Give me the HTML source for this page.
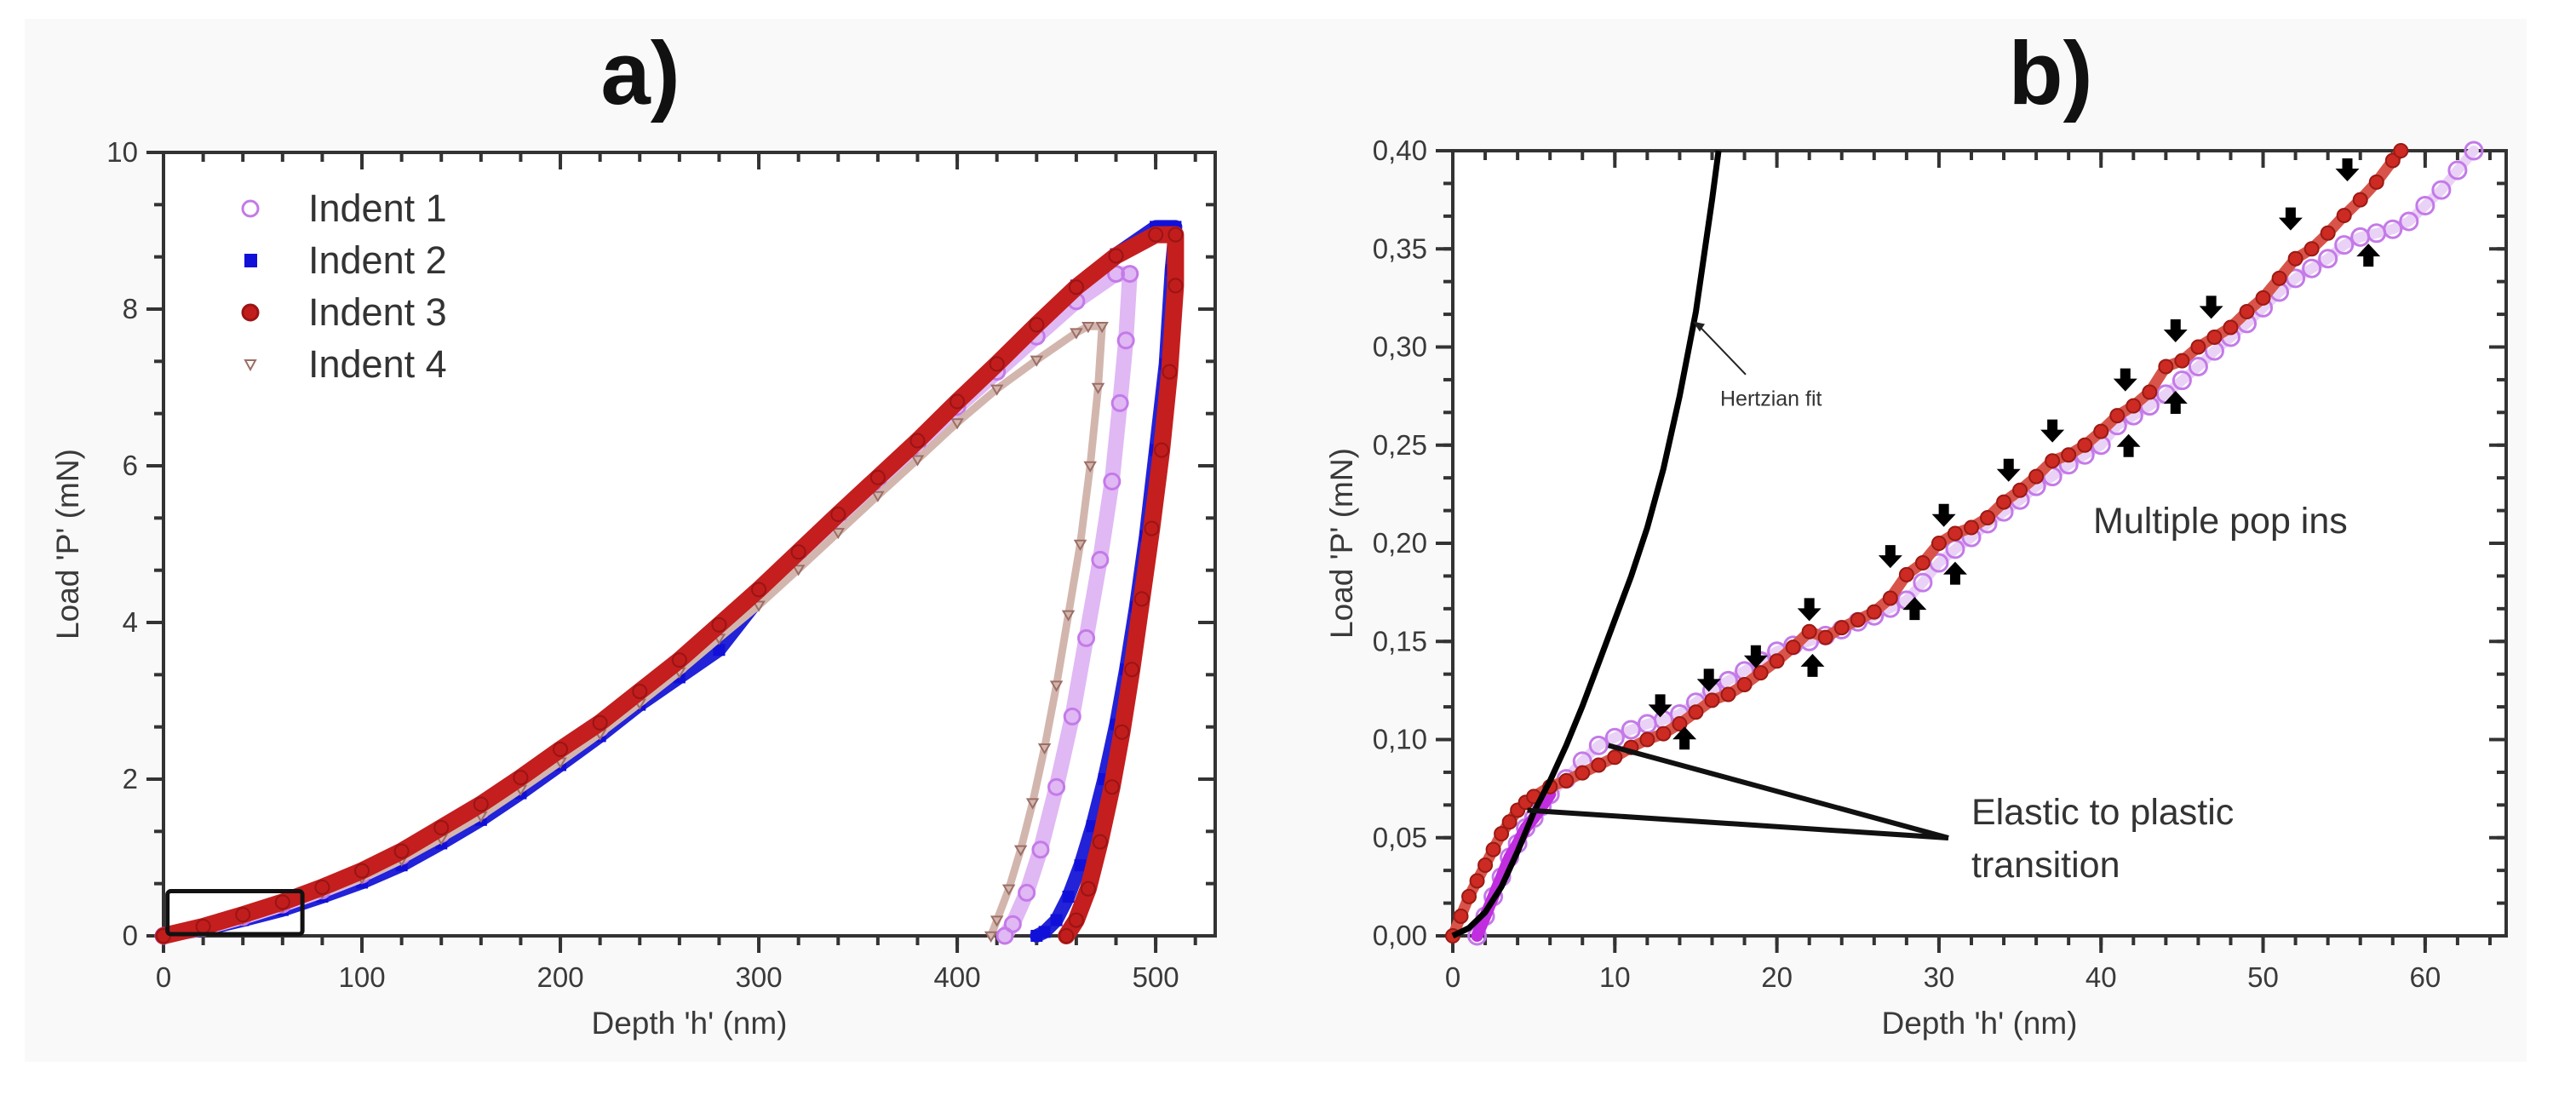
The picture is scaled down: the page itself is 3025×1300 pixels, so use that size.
<!DOCTYPE html>
<html><head><meta charset="utf-8">
<style>
html,body{margin:0;padding:0;background:#fff;}
svg{display:block;font-family:"Liberation Sans",Arial,sans-serif;}
</style></head>
<body>
<svg id="fig" width="3025" height="1300" viewBox="0 0 3025 1300" xmlns="http://www.w3.org/2000/svg">
<rect x="0" y="0" width="3025" height="1300" fill="#ffffff"/>
<rect x="29" y="22" width="2938" height="1225" fill="#f9f9f9"/>
<text x="752" y="122" font-size="105" font-weight="bold" text-anchor="middle" fill="#111">a)</text>
<text x="2408" y="122" font-size="105" font-weight="bold" text-anchor="middle" fill="#111">b)</text>
<g id="pa"></g>
<g id="pb"></g>
</svg>
<script>
// ---------- Panel a data ----------
const aXTicks = [0,100,200,300,400,500];
const aYTicks = [0,2,4,6,8,10];
const aYTickLabels = ["0","2","4","6","8","10"];
const ind1H = [0,20,40,60,80,100,120,140,160,180,200,220,240,260,280,300,320,340,360,380,400,420,440,460,480,487,485,482,478,472,465,458,450,442,435,428,424];
const ind1P = [0,0.1,0.24,0.4,0.58,0.78,1.02,1.3,1.6,1.95,2.3,2.65,3.05,3.45,3.9,4.35,4.8,5.3,5.8,6.25,6.75,7.2,7.65,8.1,8.45,8.45,7.6,6.8,5.8,4.8,3.8,2.8,1.9,1.1,0.55,0.15,0];
const ind2H = [0,20,40,60,80,100,120,140,160,180,200,220,240,260,280,300,320,340,360,380,400,420,440,460,480,500,505,510,508,505,500,495,490,485,480,474,468,462,456,450,444,440];
const ind2P = [0,0.08,0.2,0.33,0.5,0.68,0.9,1.18,1.48,1.82,2.18,2.55,2.95,3.3,3.65,4.3,4.8,5.3,5.8,6.3,6.8,7.3,7.8,8.3,8.7,9.05,9.05,9.05,8.5,7.3,6.2,5.1,4.2,3.4,2.7,2.0,1.4,0.9,0.5,0.2,0.05,0];
const ind3H = [0,20,40,60,80,100,120,140,160,180,200,220,240,260,280,300,320,340,360,380,400,420,440,460,480,500,510,510,507,503,498,493,488,483,478,472,466,460,455];
const ind3P = [0,0.12,0.27,0.43,0.62,0.83,1.08,1.38,1.68,2.02,2.38,2.72,3.12,3.52,3.97,4.42,4.9,5.38,5.85,6.32,6.82,7.3,7.8,8.28,8.68,8.95,8.95,8.3,7.2,6.2,5.2,4.3,3.4,2.6,1.9,1.2,0.6,0.2,0];
const ind4H = [0,20,40,60,80,100,120,140,160,180,200,220,240,260,280,300,320,340,360,380,400,420,440,460,466,473,471,467,462,456,450,444,438,432,426,420,417];
const ind4P = [0,0.09,0.22,0.37,0.55,0.74,0.97,1.24,1.53,1.87,2.22,2.58,2.97,3.37,3.8,4.22,4.68,5.15,5.62,6.08,6.55,6.98,7.35,7.7,7.78,7.78,7.0,6.0,5.0,4.1,3.2,2.4,1.7,1.1,0.6,0.2,0];
const seriesNames = ["Indent 1","Indent 2","Indent 3","Indent 4"];

// ---------- Panel b data ----------
const bXTicks = [0,10,20,30,40,50,60];
const bYTicks = [0,0.05,0.10,0.15,0.20,0.25,0.30,0.35,0.40];
const bYTickLabels = ["0,00","0,05","0,10","0,15","0,20","0,25","0,30","0,35","0,40"];
const redH = [0,0.5,1,1.5,2,2.5,3,3.5,4,4.5,5,6,7,8,9,10,11,12,13,14,15,16,17,18,19,20,21,22,23,24,25,26,27,28,29,30,31,32,33,34,35,36,37,38,39,40,41,42,43,44,45,46,47,48,49,50,51,52,53,54,55,56,57,58,58.5];
const redP = [0,0.01,0.02,0.028,0.036,0.044,0.052,0.058,0.064,0.068,0.071,0.076,0.079,0.083,0.087,0.091,0.096,0.1,0.103,0.108,0.114,0.12,0.123,0.128,0.134,0.14,0.147,0.155,0.152,0.157,0.161,0.165,0.172,0.184,0.19,0.2,0.205,0.208,0.213,0.221,0.227,0.234,0.242,0.245,0.25,0.257,0.265,0.27,0.277,0.29,0.293,0.3,0.305,0.31,0.318,0.325,0.335,0.345,0.35,0.358,0.367,0.375,0.384,0.395,0.4];
const purH = [1.5,2,2.5,3,3.5,4,4.5,5,5.5,6,7,8,9,10,11,12,13,14,15,16,17,18,19,20,21,22,23,24,25,26,27,28,29,30,31,32,33,34,35,36,37,38,39,40,41,42,43,44,45,46,47,48,49,50,51,52,53,54,55,56,57,58,59,60,61,62,63];
const purP = [0,0.01,0.02,0.03,0.04,0.047,0.055,0.06,0.066,0.072,0.08,0.089,0.097,0.101,0.105,0.108,0.11,0.113,0.119,0.125,0.13,0.135,0.14,0.145,0.148,0.15,0.153,0.156,0.16,0.163,0.167,0.171,0.18,0.19,0.197,0.203,0.21,0.216,0.222,0.229,0.234,0.24,0.245,0.25,0.26,0.265,0.27,0.276,0.283,0.29,0.298,0.305,0.312,0.32,0.328,0.335,0.34,0.345,0.352,0.356,0.358,0.36,0.364,0.372,0.38,0.39,0.4];
const hertzH = [0,1,2,3,4,5,6,7,8,9,10,11,12,13,14,15,16,16.4];
const hertzP = [0,0.004,0.012,0.025,0.043,0.063,0.079,0.097,0.117,0.139,0.161,0.183,0.208,0.238,0.275,0.318,0.375,0.40];
const downArrowH = [12.8,15.8,18.7,22,27,30.3,34.3,37,41.5,44.6,46.8,51.7,55.2];
const downArrowP = [0.117,0.13,0.142,0.166,0.193,0.214,0.237,0.257,0.283,0.308,0.32,0.365,0.39];
const upArrowH = [14.3,22.2,28.5,31,41.7,44.6,56.5];
const upArrowP = [0.101,0.138,0.167,0.185,0.25,0.272,0.347];

const NS="http://www.w3.org/2000/svg";
function mk(parent,tag,attrs){const e=document.createElementNS(NS,tag);for(const k in attrs)e.setAttribute(k,attrs[k]);parent.appendChild(e);return e;}

const A={x0:192,x1:1427,y0:1099,y1:179,xmin:0,xmax:530,ymin:0,ymax:10};
const B={x0:1706,x1:2943,y0:1099,y1:177,xmin:0,xmax:65,ymin:0,ymax:0.40};
function sx(ax,v){return ax.x0+(v-ax.xmin)/(ax.xmax-ax.xmin)*(ax.x1-ax.x0);}
function sy(ax,v){return ax.y0-(v-ax.ymin)/(ax.ymax-ax.ymin)*(ax.y0-ax.y1);}

function drawAxes(g,ax,xt,yt,ytl,xMinorStep,yMinorStep,prefix){
  const fr=mk(g,'rect',{x:ax.x0,y:ax.y1,width:ax.x1-ax.x0,height:ax.y0-ax.y1,fill:'#fff',stroke:'#333','stroke-width':4});
  
  
  for(let v=ax.xmin;v<=ax.xmax+1e-9;v+=xMinorStep){
    const x=sx(ax,v);
    const t1=mk(g,'line',{x1:x,x2:x,y1:ax.y0,y2:ax.y0+11,stroke:'#333','stroke-width':4});
    
    
    const t2=mk(g,'line',{x1:x,x2:x,y1:ax.y1,y2:ax.y1+11,stroke:'#333','stroke-width':4});
    
    
  }
  for(let v=ax.ymin;v<=ax.ymax+1e-9;v+=yMinorStep){
    const y=sy(ax,v);
    const t1=mk(g,'line',{x1:ax.x0-11,x2:ax.x0,y1:y,y2:y,stroke:'#333','stroke-width':4});
    
    
    const t2=mk(g,'line',{x1:ax.x1-11,x2:ax.x1,y1:y,y2:y,stroke:'#333','stroke-width':4});
    
    
  }
  xt.forEach(v=>{
    const x=sx(ax,v);
    const t=mk(g,'line',{x1:x,x2:x,y1:ax.y0,y2:ax.y0+20,stroke:'#333','stroke-width':4});
    
    
    const t2=mk(g,'line',{x1:x,x2:x,y1:ax.y1,y2:ax.y1+20,stroke:'#333','stroke-width':4});
    
    
    const l=mk(g,'text',{x:x,y:ax.y0+60,'font-size':33,'text-anchor':'middle',fill:'#3a3a3a'});
    l.textContent=String(v);
    
    
  });
  yt.forEach((v,i)=>{
    const y=sy(ax,v);
    const t=mk(g,'line',{x1:ax.x0-20,x2:ax.x0,y1:y,y2:y,stroke:'#333','stroke-width':4});
    
    
    const t2=mk(g,'line',{x1:ax.x1-20,x2:ax.x1,y1:y,y2:y,stroke:'#333','stroke-width':4});
    
    
    const l=mk(g,'text',{x:ax.x0-30,y:y+11,'font-size':33,'text-anchor':'end',fill:'#3a3a3a'});
    l.textContent=ytl[i];
    
    
  });
  const xtit=mk(g,'text',{x:(ax.x0+ax.x1)/2,y:ax.y0+115,'font-size':37,'text-anchor':'middle',fill:'#3a3a3a'});
  xtit.textContent="Depth 'h' (nm)";
  
  
  const cy=(ax.y0+ax.y1)/2, cx=ax.x0-(prefix==='a'?100:118);
  const ytit=mk(g,'text',{x:cx,y:cy,'font-size':37,'text-anchor':'middle',fill:'#3a3a3a',transform:'rotate(-90 '+cx+' '+cy+')'});
  ytit.textContent="Load 'P' (mN)";
  
  
}

function pathOf(ax,H,P){return H.map((h,i)=>(i?'L':'M')+sx(ax,h).toFixed(1)+' '+sy(ax,P[i]).toFixed(1)).join(' ');}

function series(g,ax,H,P,opt,name){
  const sg=mk(g,'g',{});
  
  
  if(opt.band){
    const b=mk(sg,'path',{d:pathOf(ax,H,P),fill:'none',stroke:opt.band,'stroke-width':opt.bw,'stroke-linejoin':'round','stroke-linecap':'round'});
    
    
  }
  H.forEach((h,i)=>{
    const x=sx(ax,h),y=sy(ax,P[i]);let m;
    if(opt.shape==='circle') m=mk(sg,'circle',{cx:x,cy:y,r:opt.r,fill:opt.fill,stroke:opt.stroke,'stroke-width':opt.sw});
    else if(opt.shape==='square') m=mk(sg,'rect',{x:x-opt.r,y:y-opt.r,width:2*opt.r,height:2*opt.r,fill:opt.fill});
    else m=mk(sg,'path',{d:`M${x-opt.r} ${y-opt.r*0.7} L${x+opt.r} ${y-opt.r*0.7} L${x} ${y+opt.r} Z`,fill:opt.fill,stroke:opt.stroke,'stroke-width':opt.sw});
    
    
  });
}

// ---------- Panel a ----------
const ga=document.getElementById('pa');
drawAxes(ga,A,aXTicks,aYTicks,aYTickLabels,20,2/3,'a');
const optI1={shape:'circle',r:9,fill:'none',stroke:'#c47ae8',sw:3,band:'#e0b8f4',bw:18};
const optI2={shape:'square',r:7,fill:'#1010d8',band:'#2222d8',bw:16};
const optI3={shape:'circle',r:8,fill:'#c21d1d',stroke:'#9a1414',sw:2,band:'#c41e1e',bw:20};
const optI4={shape:'tri',r:6,fill:'none',stroke:'#9c6e66',sw:2,band:'#d2b6ae',bw:9};
series(ga,A,ind2H,ind2P,optI2,'indent-2-series');
series(ga,A,ind1H,ind1P,optI1,'indent-1-series');
series(ga,A,ind4H,ind4P,optI4,'indent-4-series');
series(ga,A,ind3H,ind3P,optI3,'indent-3-series');
const zb=mk(ga,'rect',{x:sx(A,2),y:sy(A,0.57),width:sx(A,70)-sx(A,2),height:sy(A,0.0)-sy(A,0.57)-2,fill:'none',stroke:'#111','stroke-width':5,rx:4});


const leg=mk(ga,'g',{});


const legOpts=[optI1,optI2,optI3,optI4];
seriesNames.forEach((n,i)=>{
  const y=245+i*61;
  const o=legOpts[i];let m;
  if(o.shape==='circle') m=mk(leg,'circle',{cx:294,cy:y,r:9,fill:o.fill,stroke:o.stroke,'stroke-width':3});
  else if(o.shape==='square') m=mk(leg,'rect',{x:287,y:y-8,width:15,height:16,fill:o.fill});
  else m=mk(leg,'path',{d:`M288 ${y-5} L300 ${y-5} L294 ${y+6} Z`,fill:'none',stroke:o.stroke,'stroke-width':2});
  
  
  const t=mk(leg,'text',{x:362,y:y+15,'font-size':45,fill:'#333'});
  t.textContent=n;
  
  
});

// ---------- Panel b ----------
const gb=document.getElementById('pb');
drawAxes(gb,B,bXTicks,bYTicks,bYTickLabels,2,0.05/3,'b');
series(gb,B,purH,purP,{shape:'circle',r:10,fill:'none',stroke:'#c47ae8',sw:3,band:'#ead2f6',bw:12},'indent-1-zoom-series');
const mag=mk(gb,'path',{d:pathOf(B,purH.slice(0,10),purP.slice(0,10)),fill:'none',stroke:'#c02ee0','stroke-width':14,'stroke-linecap':'round'});


series(gb,B,redH,redP,{shape:'circle',r:8,fill:'#cc2a22',stroke:'#9a1a14',sw:2,band:'#d8544a',bw:13},'indent-3-zoom-series');
const hz=mk(gb,'path',{d:pathOf(B,hertzH,hertzP),fill:'none',stroke:'#000','stroke-width':7,'stroke-linejoin':'round'});


function arrow(g,x,y,dir,name){
  const s=dir;const p=`M${x-6} ${y-14*s} L${x+6} ${y-14*s} L${x+6} ${y-2*s} L${x+14} ${y-2*s} L${x} ${y+13*s} L${x-14} ${y-2*s} L${x-6} ${y-2*s} Z`;
  const a=mk(g,'path',{d:p,fill:'#000'});
  
  
}
downArrowH.forEach((h,i)=>arrow(gb,sx(B,h),sy(B,downArrowP[i]),1,'pop-in-down-arrow'));
upArrowH.forEach((h,i)=>arrow(gb,sx(B,h),sy(B,upArrowP[i]),-1,'pop-in-up-arrow'));
const hx1=2050,hy1=sy(B,0.286),hx2=1988,hy2=sy(B,0.313);
const ha=mk(gb,'line',{x1:hx1,y1:hy1,x2:hx2+6,y2:hy2+4,stroke:'#222','stroke-width':2});


const hh=mk(gb,'path',{d:`M${hx2} ${hy2} L${hx2+8} ${hy2+12} L${hx2+14} ${hy2+3} Z`,fill:'#222'});


const ht=mk(gb,'text',{x:2020,y:sy(B,0.274)+9,'font-size':25,fill:'#333'});
ht.textContent='Hertzian fit';


const mp=mk(gb,'text',{x:2458,y:626,'font-size':43,fill:'#333'});
mp.textContent='Multiple pop ins';


const l1=mk(gb,'line',{x1:2288,y1:984,x2:sx(B,9.6),y2:sy(B,0.097),stroke:'#111','stroke-width':6});


const l2=mk(gb,'line',{x1:2288,y1:984,x2:sx(B,4.6),y2:sy(B,0.064),stroke:'#111','stroke-width':6});


const e1=mk(gb,'text',{x:2315,y:968,'font-size':43,fill:'#333'});
e1.textContent='Elastic to plastic';


const e2=mk(gb,'text',{x:2315,y:1030,'font-size':43,fill:'#333'});
e2.textContent='transition';


</script>
</body></html>
